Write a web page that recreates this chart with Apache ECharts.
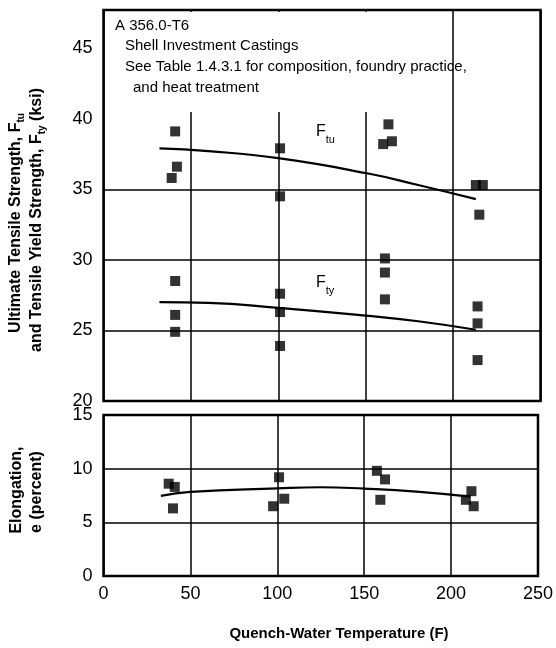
<!DOCTYPE html>
<html>
<head>
<meta charset="utf-8">
<script src="https://cdn.jsdelivr.net/npm/echarts@6/dist/echarts.min.js"></script>
<style>
  html, body { margin: 0; padding: 0; background: #fff; }
  #chart { width: 556px; height: 648px; }
</style>
</head>
<body>
<div id="chart"></div>
<script>
// Quench-water temperature (F) vs. tensile properties, A 356.0-T6 shell investment castings
const tempTicks = [0, 50, 100, 150, 200, 250];

// Ultimate tensile strength, Ftu (ksi)
const ftuTemp = [41, 42, 39, 101, 101, 163, 160, 165, 213, 217, 215];
const ftuVals = [39.1, 36.6, 35.8, 37.9, 34.5, 39.6, 38.2, 38.4, 35.3, 35.3, 33.2];

// Tensile yield strength, Fty (ksi)
const ftyTemp = [41, 41, 41, 101, 101, 101, 161, 161, 161, 214, 214, 214];
const ftyVals = [28.5, 26.1, 24.9, 27.6, 26.3, 23.9, 30.1, 29.1, 27.2, 26.7, 25.5, 22.9];

// Fitted trend curves for strength
const fitTemp = [32, 60, 100, 150, 180, 213];
const ftuFit = [37.9, 37.7, 37.2, 36.15, 35.3, 34.3];
const ftyFit = [27.0, 26.95, 26.6, 26.05, 25.65, 25.05];

// Elongation, e (percent)
const elTemp = [37.5, 41, 40, 101, 104, 97.6, 157.3, 162, 159.3, 211.7, 208.5, 213];
const elVals = [8.6, 8.3, 6.3, 9.2, 7.2, 6.5, 9.8, 9.0, 7.1, 7.9, 7.1, 6.5];
const elFitTemp = [33, 50, 100, 125, 150, 180, 211];
const elFit = [7.46, 7.83, 8.17, 8.27, 8.14, 7.86, 7.39];

// Horizontal rules drawn across the strength panel
const strengthRules = [25, 30, 35];

const pairs = (xs, ys) => xs.map((x, i) => [x, ys[i]]);

const FONT = '"Liberation Sans", Arial, Helvetica, sans-serif';
const INK = '#000';

const chart = echarts.init(document.getElementById('chart'), null, { renderer: 'canvas' });

const gridLine = { show: true, lineStyle: { color: INK, width: 1.5, type: 'solid' } };

const scatterStyle = {
  type: 'scatter', symbol: 'rect', symbolSize: 10,
  itemStyle: { color: INK }, silent: true, z: 5
};
const curveStyle = {
  type: 'line', smooth: 0.5, showSymbol: false, symbol: 'none',
  lineStyle: { color: INK, width: 2.2 }, silent: true, z: 4
};

const subRich = {
  s: { fontSize: 10, fontFamily: FONT, fontWeight: 'bold', verticalAlign: 'bottom', padding: [0, 0, -2, 0] }
};

chart.setOption({
  animation: false,
  backgroundColor: '#fff',
  grid: [
    { left: 103.5, width: 437, top: 10, height: 391, show: true, borderColor: INK, borderWidth: 2.5, backgroundColor: 'transparent' },
    { left: 103.5, width: 437, top: 415, height: 161, show: true, borderColor: INK, borderWidth: 2.5, backgroundColor: 'transparent' }
  ],
  xAxis: [
    {
      gridIndex: 0, type: 'value', min: tempTicks[0], max: tempTicks[tempTicks.length - 1], interval: 50,
      axisLine: { show: false }, axisTick: { show: false }, axisLabel: { show: false },
      splitLine: gridLine
    },
    {
      gridIndex: 1, type: 'value', min: tempTicks[0], max: tempTicks[tempTicks.length - 1], interval: 50,
      axisLine: { show: false }, axisTick: { show: false },
      axisLabel: { color: INK, fontSize: 18, fontFamily: FONT, margin: 9 },
      splitLine: gridLine
    }
  ],
  yAxis: [
    {
      gridIndex: 0, type: 'value', min: 20, max: 47.7, interval: 5,
      axisLine: { show: false }, axisTick: { show: false },
      axisLabel: { color: INK, fontSize: 18, fontFamily: FONT, margin: 11, showMaxLabel: false },
      splitLine: { show: false }
    },
    {
      gridIndex: 1, type: 'value', min: 0, max: 15, interval: 5,
      axisLine: { show: false }, axisTick: { show: false },
      axisLabel: { color: INK, fontSize: 18, fontFamily: FONT, margin: 11 },
      splitLine: gridLine
    }
  ],
  series: [
    Object.assign({}, scatterStyle, { name: 'Ftu', xAxisIndex: 0, yAxisIndex: 0, data: pairs(ftuTemp, ftuVals) }),
    Object.assign({}, scatterStyle, {
      name: 'Fty', xAxisIndex: 0, yAxisIndex: 0, data: pairs(ftyTemp, ftyVals),
      markLine: {
        silent: true, symbol: 'none', label: { show: false }, z: 1,
        lineStyle: { color: INK, width: 1.5, type: 'solid' },
        data: strengthRules.map(v => ({ yAxis: v }))
      }
    }),
    Object.assign({}, curveStyle, { name: 'Ftu fit', xAxisIndex: 0, yAxisIndex: 0, data: pairs(fitTemp, ftuFit) }),
    Object.assign({}, curveStyle, { name: 'Fty fit', xAxisIndex: 0, yAxisIndex: 0, data: pairs(fitTemp, ftyFit) }),
    Object.assign({}, scatterStyle, { name: 'e', xAxisIndex: 1, yAxisIndex: 1, data: pairs(elTemp, elVals) }),
    Object.assign({}, curveStyle, { name: 'e fit', xAxisIndex: 1, yAxisIndex: 1, data: pairs(elFitTemp, elFit) })
  ],
  graphic: [
    // Note box in the upper-left of the strength panel
    { type: 'rect', z: 20, shape: { x: 105, y: 12, width: 325, height: 100 }, style: { fill: '#fff' } },
    { type: 'text', z: 21, x: 115, y: 26, style: { text: 'A 356.0-T6', font: '15px ' + FONT, fill: INK, verticalAlign: 'middle' } },
    { type: 'text', z: 21, x: 125, y: 46, style: { text: 'Shell Investment Castings', font: '15px ' + FONT, fill: INK, verticalAlign: 'middle' } },
    { type: 'text', z: 21, x: 125, y: 67, style: { text: 'See Table 1.4.3.1 for composition, foundry practice,', font: '15px ' + FONT, fill: INK, verticalAlign: 'middle' } },
    { type: 'text', z: 21, x: 133, y: 88, style: { text: 'and heat treatment', font: '15px ' + FONT, fill: INK, verticalAlign: 'middle' } },

    // Curve labels
    {
      type: 'text', z: 21, x: 316, y: 132,
      style: {
        text: 'F{s|tu}', fill: INK, fontSize: 16, fontFamily: FONT, verticalAlign: 'middle',
        rich: { s: { fontSize: 11, fontFamily: FONT, verticalAlign: 'bottom', padding: [0, 0, -5, 0] } }
      }
    },
    {
      type: 'text', z: 21, x: 316, y: 283,
      style: {
        text: 'F{s|ty}', fill: INK, fontSize: 16, fontFamily: FONT, verticalAlign: 'middle',
        rich: { s: { fontSize: 11, fontFamily: FONT, verticalAlign: 'bottom', padding: [0, 0, -5, 0] } }
      }
    },

    // Axis titles
    {
      type: 'text', z: 21, x: 16, y: 223, rotation: Math.PI / 2,
      style: {
        text: 'Ultimate Tensile Strength, F{s|tu}', fill: INK, fontSize: 16, fontWeight: 'bold', fontFamily: FONT,
        align: 'center', verticalAlign: 'middle', rich: subRich
      }
    },
    {
      type: 'text', z: 21, x: 37, y: 220, rotation: Math.PI / 2,
      style: {
        text: 'and Tensile Yield Strength, F{s|ty} (ksi)', fill: INK, fontSize: 16, fontWeight: 'bold', fontFamily: FONT,
        align: 'center', verticalAlign: 'middle', rich: subRich
      }
    },
    {
      type: 'text', z: 21, x: 17, y: 490, rotation: Math.PI / 2,
      style: { text: 'Elongation,', fill: INK, font: 'bold 16px ' + FONT, align: 'center', verticalAlign: 'middle' }
    },
    {
      type: 'text', z: 21, x: 37, y: 492, rotation: Math.PI / 2,
      style: { text: 'e (percent)', fill: INK, font: 'bold 16px ' + FONT, align: 'center', verticalAlign: 'middle' }
    },
    {
      type: 'text', z: 21, x: 339, y: 634,
      style: { text: 'Quench-Water Temperature (F)', fill: INK, font: 'bold 15px ' + FONT, align: 'center', verticalAlign: 'middle' }
    }
  ]
});
</script>
</body>
</html>
